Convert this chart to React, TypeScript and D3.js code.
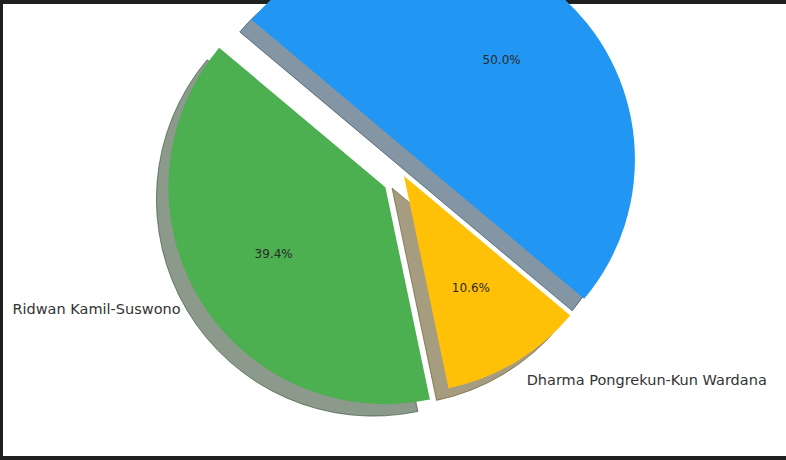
import React from "react";
import * as d3 from "d3";

const categories = ["Pramono Anung-Rano Karno", "Ridwan Kamil-Suswono", "Dharma Pongrekun-Kun Wardana"];
const shares = [50.0, 39.4, 10.6];
const explodes = [0.1, 0.1, 0];
const colors = ["#2196F3", "#4CAF50", "#FFC107"];

const W = 786;
const H = 460;
const CX = 404;
const CY = 176;
const R = 217;
const SHADOW_DX = -12;
const SHADOW_DY = 12;
const START_MPL_DEG = -40;

function shadowColor(c: string) {
  const rgb = d3.rgb(c);
  return `rgba(${Math.round(rgb.r * 0.3)},${Math.round(rgb.g * 0.3)},${Math.round(rgb.b * 0.3)},0.5)`;
}

export default function App() {
  const start = ((90 - START_MPL_DEG) * Math.PI) / 180;
  const pie = d3
    .pie<number>()
    .sort(null)
    .value((d) => d)
    .startAngle(start)
    .endAngle(start - 2 * Math.PI);
  const arcs = pie(shares);
  const arcGen = d3.arc<d3.PieArcDatum<number>>().innerRadius(0).outerRadius(R);

  const items = arcs.map((a, i) => {
    const mid = (a.startAngle + a.endAngle) / 2;
    const ux = Math.sin(mid);
    const uy = -Math.cos(mid);
    const ox = CX + explodes[i] * R * ux;
    const oy = CY + explodes[i] * R * uy;
    return { a, i, ux, uy, ox, oy };
  });

  return (
    <svg
      width={W}
      height={H}
      style={{ position: "absolute", left: 0, top: 0, display: "block" }}
      fontFamily="DejaVu Sans, sans-serif"
    >
      <rect x={0} y={0} width={W} height={H} fill="#1f1f1f" />
      <rect x={3} y={4} width={W - 3} height={452} fill="#ffffff" />
      <g>
        {items.map(({ a, i, ox, oy }) => (
          <path
            key={"s" + i}
            d={arcGen(a) || ""}
            transform={`translate(${ox + SHADOW_DX},${oy + SHADOW_DY})`}
            fill={shadowColor(colors[i])}
            stroke={shadowColor(colors[i])}
            strokeWidth={1}
          />
        ))}
        {items.map(({ a, i, ox, oy }) => (
          <path
            key={"w" + i}
            d={arcGen(a) || ""}
            transform={`translate(${ox},${oy})`}
            fill={colors[i]}
          />
        ))}
        {items.map(({ i, ux, uy, ox, oy }) => (
          <text
            key={"p" + i}
            x={ox + 0.6 * R * ux}
            y={oy + 0.6 * R * uy}
            dy="0.35em"
            textAnchor="middle"
            fontSize={12}
            fill="#2a2a2a"
          >
            {shares[i].toFixed(1) + "%"}
          </text>
        ))}
        {items
          .filter(({ uy, oy, ux }) => oy + 1.1 * R * uy > 8)
          .map(({ i, ux, uy, ox, oy }) => (
            <text
              key={"l" + i}
              x={ox + 1.1 * R * ux}
              y={oy + 1.1 * R * uy}
              dy="0.3em"
              textAnchor={ux >= 0 ? "start" : "end"}
              fontSize={14.5}
              fill="#333333"
            >
              {categories[i]}
            </text>
          ))}
      </g>
    </svg>
  );
}
